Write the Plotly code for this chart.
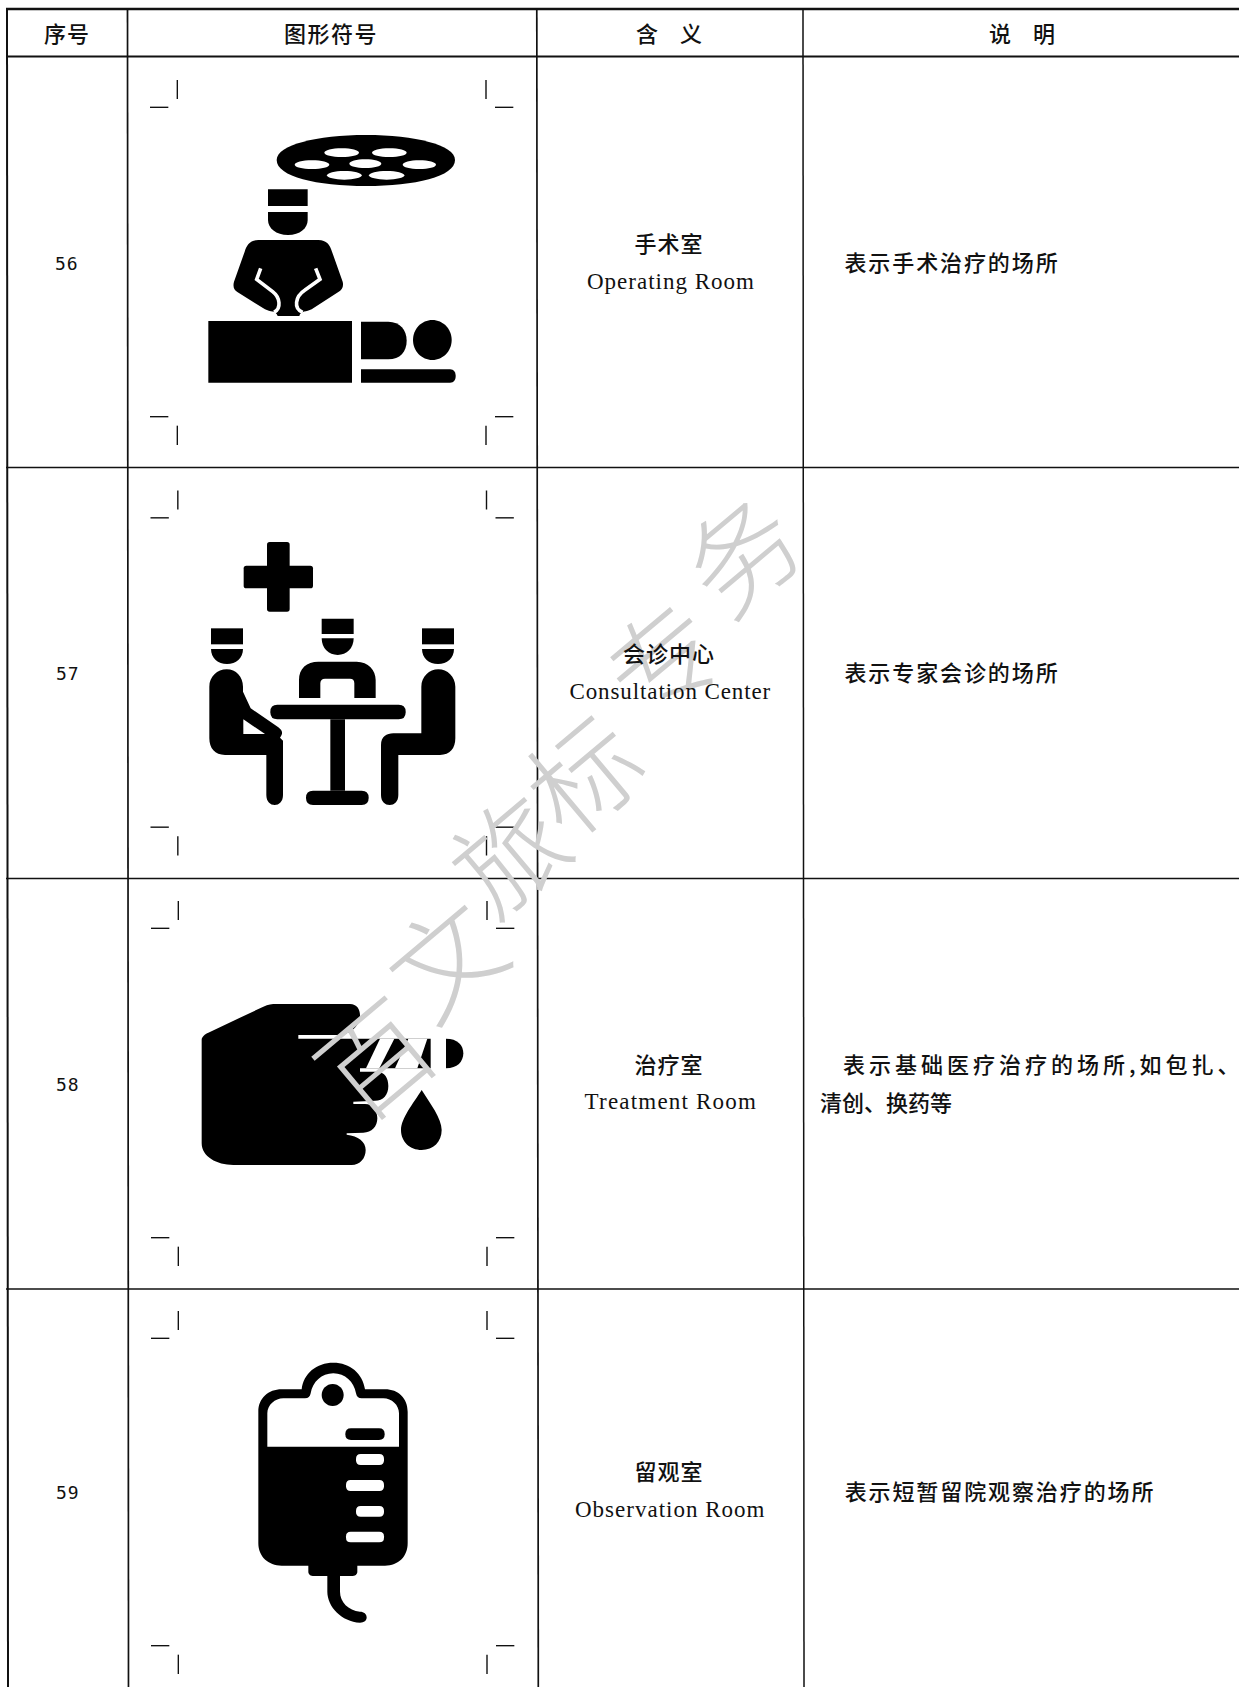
import json
import re
import plotly.graph_objects as go

W, H = 1239, 1687
CJK = "Noto Sans CJK SC"

headers = ["序号", "图形符号", "含\u3000义", "说\u3000明"]
header_x = [66.7, 331, 669, 1022]
serials = ["56", "57", "58", "59"]
serial_x = [66.7, 68, 68, 68]
names_zh = ["手术室", "会诊中心", "治疗室", "留观室"]
names_en = ["Operating Room", "Consultation Center", "Treatment Room", "Observation Room"]
desc_line1 = ["表示手术治疗的场所", "表示专家会诊的场所", "表示基础医疗治疗的场所,如包扎、", "表示短暂留院观察治疗的场所"]
desc_line2 = ["", "", "清创、换药等", ""]
row_mid = [263, 673, 1084, 1492]
name_zh_y = [242, 652, 1063, 1470]
name_en_y = [281, 691, 1101, 1509]
desc_y = [261, 671, 1063, 1490]
desc_center_x = [951.5, 951.5, 1043, 999.5]
watermark_chars = ["百", "文", "旅", "标", "专", "务"]
watermark_x = [372, 442, 505, 580, 660, 738]
watermark_y = [1055, 955, 850, 770, 655, 550]

# extra space between glyphs, per string
spacing = {"序号": 1, "图形符号": 1.5, desc_line1[0]: 1.9, desc_line1[1]: 1.9, desc_line1[2]: 4.0, desc_line1[3]: 1.9,
           names_en[0]: 1, names_en[1]: 0.9, names_en[2]: 1.2, names_en[3]: 1, "56": 1, "57": 1, "58": 1, "59": 1,
           names_zh[0]: 1, names_zh[1]: 1, names_zh[2]: 1, names_zh[3]: 1}

shapes = []


def tf(d, ox, oy, s=3.0):
    toks = re.findall(r"[MLCQZ]|-?\d+\.?\d*", d)
    out, is_x = [], True
    for t in toks:
        if t in "MLCQZ":
            out.append(t)
            is_x = True
        else:
            v = float(t)
            out.append(f"{ox + v / s:.2f}" if is_x else f"{oy + v / s:.2f}")
            is_x = not is_x
    return " ".join(out)


def path(d, ox, oy, fill="#000"):
    shapes.append(dict(type="path", path=tf(d, ox, oy), fillcolor=fill, line=dict(width=0), layer="above"))


def stroke(d, ox, oy, color="#fff", w=3.0):
    shapes.append(dict(type="path", path=tf(d, ox, oy), line=dict(color=color, width=w), layer="above"))


def rrect(x0, y0, x1, y1, r):
    return (f"M{x0 + r} {y0} L{x1 - r} {y0} Q{x1} {y0} {x1} {y0 + r} L{x1} {y1 - r} Q{x1} {y1} {x1 - r} {y1} "
            f"L{x0 + r} {y1} Q{x0} {y1} {x0} {y1 - r} L{x0} {y0 + r} Q{x0} {y0} {x0 + r} {y0} Z")


def ell(cx, cy, rx, ry):
    k = 0.5523
    return (f"M{cx - rx} {cy} C{cx - rx} {cy - k * ry} {cx - k * rx} {cy - ry} {cx} {cy - ry} "
            f"C{cx + k * rx} {cy - ry} {cx + rx} {cy - k * ry} {cx + rx} {cy} "
            f"C{cx + rx} {cy + k * ry} {cx + k * rx} {cy + ry} {cx} {cy + ry} "
            f"C{cx - k * rx} {cy + ry} {cx - rx} {cy + k * ry} {cx - rx} {cy} Z")


# table rules
def hline(y, w, x0=6, x1=W):
    shapes.append(dict(type="line", x0=x0, x1=x1, y0=y, y1=y, line=dict(color="#111", width=w)))


def vline(x, w, y0=9, y1=H, x2=None):
    shapes.append(dict(type="line", x0=x, x1=x if x2 is None else x2, y0=y0, y1=y1, line=dict(color="#111", width=w)))


hline(9, 2.5)
hline(56.5, 2)
for y in [467.5, 878.5, 1289]:
    hline(y, 1.5)
vline(7, 2, x2=8)
vline(127.5, 1.7, x2=128.5)
vline(536.8, 1.7, x2=538.3)
vline(803, 1.5, x2=804)

# crop marks of each symbol cell
for oy, dx, bottom in [(60, 0, 0), (470.5, 0.5, 0), (881, 1, 0), (1291, 1, -6)]:
    ox = 130 + dx
    for d in ["M142 60 L142 117", "M60 142 L115 142", "M1068 60 L1068 117", "M1095 142 L1150 142"]:
        stroke(d, ox, oy, "#111", 1.4)
    for d in ["M60 1070 L115 1070", "M142 1097 L142 1155", "M1095 1070 L1150 1070", "M1068 1097 L1068 1155"]:
        stroke(d, ox, oy + bottom / 3, "#111", 1.4)

# symbol 56
ox, oy = 130, 60
path("M440 300 C440 255 560 225 708 225 C855 225 975 255 975 300 C975 350 855 378 708 378 C560 378 440 350 440 300 Z", ox, oy)
for cx, cy, rx in [(635, 278, 52), (778, 278, 52), (546, 314, 52), (706, 311, 48), (868, 314, 50), (643, 346, 52), (770, 346, 53)]:
    path(ell(cx, cy, rx, 13), ox, oy, "#fff")
path("M414 388 L533 388 L533 438 L414 438 Z", ox, oy)
path("M414 456 L533 456 L533 480 C533 505 510 525 474 525 C438 525 414 505 414 480 Z", ox, oy)
path("M385 540 L565 540 C590 540 600 555 606 575 L638 665 C642 680 635 690 625 696 L545 748 C530 756 512 752 508 768 "
     "L443 768 C438 752 420 756 405 748 L322 696 C312 690 308 680 312 665 L344 575 C350 555 360 540 385 540 Z", ox, oy)
stroke("M392 625 L380 658 L428 695 C450 712 455 745 432 757", ox, oy, "#fff", 3.6)
stroke("M557 625 L570 658 L525 690 C495 710 490 745 518 757", ox, oy, "#fff", 3.6)
path("M235 783 L666 783 L666 968 L235 968 Z", ox, oy)
path("M693 785 L775 785 C810 785 830 810 830 842 C830 875 810 898 775 898 L693 898 Z", ox, oy)
path(ell(907, 840, 58, 60), ox, oy)
path("M693 928 L960 928 C972 928 977 938 977 948 C977 960 972 968 960 968 L693 968 Z", ox, oy)

# symbol 57
ox, oy = 130, 470
path(rrect(341, 287, 549, 355, 8), ox, oy)
path(rrect(411, 216, 479, 425, 8), ox, oy)
path("M575 446 L671 446 L671 492 L575 492 Z", ox, oy)
path("M575 505 L671 505 C671 535 650 555 623 555 C596 555 575 535 575 505 Z", ox, oy)
path("M507 684 L507 630 C507 595 530 575 565 575 L680 575 C715 575 737 600 737 630 L737 684 L673 684 L673 640 "
     "C673 630 668 626 660 626 L585 626 C576 626 571 632 571 640 L571 684 Z", ox, oy)
path(rrect(421, 704, 827, 748, 21), ox, oy)
path("M601 748 L645 748 L645 962 L601 962 Z", ox, oy)
path(rrect(528, 962, 716, 1005, 21), ox, oy)
path("M243 475 L339 475 L339 523 L243 523 Z", ox, oy)
path("M243 537 L339 537 C339 565 318 582 291 582 C264 582 243 565 243 537 Z", ox, oy)
path("M238 650 C238 620 262 598 290 598 C318 598 339 620 339 650 L339 665 L362 715 L445 772 C458 782 460 790 450 803 "
     "L459 812 L459 975 C459 995 447 1005 434 1005 C421 1005 409 995 409 975 L409 855 L285 855 C255 855 238 835 238 805 Z", ox, oy)
path("M340 748 L405 792 L340 792 Z", ox, oy, "#fff")
path("M876 475 L972 475 L972 523 L876 523 Z", ox, oy)
path("M876 537 L972 537 C972 565 951 582 924 582 C897 582 876 565 876 537 Z", ox, oy)
path("M874 650 C874 620 898 598 925 598 C952 598 976 620 976 650 L976 805 C976 835 960 855 930 855 L805 855 L805 975 "
     "C805 995 793 1005 779 1005 C765 1005 753 995 753 975 L753 825 C753 800 770 790 790 790 L874 790 Z", ox, oy)

# symbol 58
ox, oy = 170, 960
path("M95 240 C95 230 105 222 115 218 L280 140 C295 133 305 132 320 132 L540 132 C560 132 570 148 570 165 C570 195 545 225 500 225 "
     "L385 225 L385 236 L782 236 L782 325 L570 325 L570 335 L620 335 C645 335 655 355 655 378 C655 405 640 422 615 422 L550 425 "
     "L550 432 L585 432 C610 432 622 455 622 475 C622 500 605 518 580 518 L530 520 L530 524 C565 528 587 545 587 570 "
     "C587 595 570 615 545 615 L190 615 C140 615 95 590 95 550 Z", ox, oy)
path("M630 236 L673 236 L628 325 L588 325 Z", ox, oy, "#fff")
path("M715 236 L772 236 L742 325 L675 325 Z", ox, oy, "#fff")
path("M828 236 C862 236 880 255 880 280 C880 305 862 325 828 325 Z", ox, oy)
path("M755 390 C730 430 693 475 693 510 C693 545 720 570 755 570 C790 570 815 545 815 510 C815 475 780 430 755 390 Z", ox, oy)

# symbol 59
ox, oy = 220, 1340
path("M115 215 C115 175 145 148 185 148 L245 148 C250 100 290 68 340 68 C390 68 428 100 435 148 L495 148 C535 148 563 175 563 215 "
     "L563 610 C563 650 535 677 495 677 L412 677 L412 695 C412 703 405 708 395 708 L360 708 L360 755 C360 785 385 812 420 815 "
     "C432 815 440 822 440 832 C440 842 432 848 420 848 C365 845 322 800 322 755 L322 708 L282 708 C272 708 265 703 265 695 "
     "L265 677 L185 677 C145 677 115 650 115 610 Z", ox, oy)
path("M142 220 C142 195 165 175 190 175 L255 175 C265 175 270 170 272 160 C278 125 305 100 340 100 C375 100 402 125 408 160 "
     "C410 170 415 175 425 175 L490 175 C515 175 537 195 537 220 L537 320 L142 320 Z", ox, oy, "#fff")
path(ell(338, 165, 33, 33), ox, oy)
path(rrect(376, 265, 494, 300, 17), ox, oy)
for x0, y0, y1 in [(408, 342, 375), (378, 420, 453), (408, 498, 530), (378, 575, 607)]:
    path(rrect(x0, y0, 492, y1, 14), ox, oy, "#fff")

ann = []


def text(x, y, s, size, family=CJK, anchor="center", color="#111", weight=500, angle=0):
    ann.append(dict(x=x, y=y, text=s, showarrow=False, xanchor=anchor, yanchor="middle", textangle=angle,
                    font=dict(family=family, size=size, color=color, weight=weight)))


# the watermark goes down first so the table text stays legible over it
for ch, x, y in zip(watermark_chars, watermark_x, watermark_y):
    text(x, y, ch, 110, CJK, color="#cfcfcf", weight=300, angle=-40)
for hx, h in zip(header_x, headers):
    text(hx, 31.5, h, 22)
for i in range(4):
    text(serial_x[i], row_mid[i], serials[i], 18, "DejaVu Sans Mono", weight=400)
    text(669, name_zh_y[i], names_zh[i], 22)
    text(670.5, name_en_y[i], names_en[i], 23, "Liberation Serif", weight=400)
    text(desc_center_x[i], desc_y[i], desc_line1[i], 22)
    if desc_line2[i]:
        text(818, 1101, desc_line2[i], 22, anchor="left")

fig = go.Figure()
fig.update_layout(
    width=W, height=H, margin=dict(l=0, r=0, t=0, b=0), paper_bgcolor="#fff", plot_bgcolor="#fff", showlegend=False,
    xaxis=dict(range=[0, W], visible=False, fixedrange=True),
    yaxis=dict(range=[H, 0], visible=False, fixedrange=True),
    shapes=shapes, annotations=ann,
)
js = ("document.body.style.margin='0';document.body.style.overflow='hidden';"
      "var sp=" + json.dumps(spacing, ensure_ascii=False) + ";"
      "document.querySelectorAll('text.annotation-text').forEach(function(t){"
      "var v=sp[t.textContent];if(v){t.style.letterSpacing=v+'px';}});")
fig.write_html("out.html", config=dict(displayModeBar=False), post_script=js)
